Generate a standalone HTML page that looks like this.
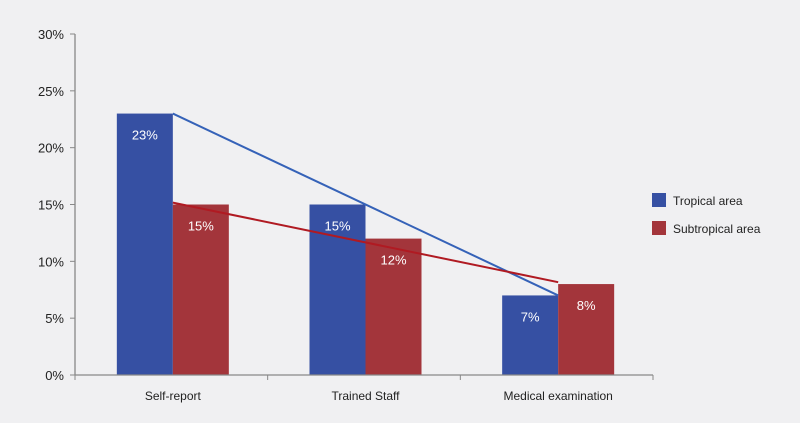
<!DOCTYPE html>
<html><head><meta charset="utf-8"><style>
body{margin:0;background:#f0f0f2;}
svg{display:block;font-family:"Liberation Sans",sans-serif;}
</style></head><body>
<svg id="chart" width="800" height="423">
<rect width="800" height="423" fill="#f0f0f2"/>
<g id="grid"></g><g id="bars"></g><g id="lines"></g><g id="axes"></g>
<g>
<rect x="652" y="193" width="14" height="14" fill="#3650a3"/>
<text x="673" y="205" font-size="12" fill="#222">Tropical area</text>
<rect x="652" y="221" width="14" height="14" fill="#a3353b"/>
<text x="673" y="233" font-size="12" fill="#222">Subtropical area</text>
</g>
</svg>
<script>
const categories = ["Self-report", "Trained Staff", "Medical examination"];
const tropical = [23, 15, 7];
const subtropical = [15, 12, 8];
const yTicks = [0, 5, 10, 15, 20, 25, 30];

const NS = "http://www.w3.org/2000/svg";
const x0 = 75, x1 = 653, yTop = 34, yBot = 375, yMax = 30;
const bw = (x1 - x0) / categories.length;
const barW = 56;
const y = v => yBot - v / yMax * (yBot - yTop);
const cx = i => x0 + bw * (i + 0.5) + 1.5;
function mk(tag, attrs, parent) {
  const e = document.createElementNS(NS, tag);
  for (const k in attrs) e.setAttribute(k, attrs[k]);
  parent.appendChild(e); return e;
}
const bars = document.getElementById("bars"), axes = document.getElementById("axes"), lines = document.getElementById("lines");
const colors = ["#3650a3", "#a3353b"];
[tropical, subtropical].forEach((series, s) => {
  series.forEach((v, i) => {
    const bx = cx(i) - barW + s * barW;
    const r = mk("rect", {x: bx, y: y(v), width: barW, height: yBot - y(v), fill: colors[s]}, bars);
    
    
    const t = mk("text", {x: bx + barW / 2, y: y(v) + 26, "text-anchor": "middle", "font-size": "13", fill: "#fff"}, bars);
    t.textContent = v + "%";
    
    
  });
  const n = series.length, mx = (n - 1) / 2;
  const my = series.reduce((a, b) => a + b, 0) / n;
  let num = 0, den = 0;
  series.forEach((v, i) => { num += (i - mx) * (v - my); den += (i - mx) ** 2; });
  const sl = num / den;
  const l = mk("line", {x1: cx(0), y1: y(my - sl * mx), x2: cx(n - 1), y2: y(my + sl * mx), stroke: s ? "#b01a22" : "#3562b8", "stroke-width": 2}, lines);
  
  
});
const ya = mk("line", {x1: x0, y1: yTop, x2: x0, y2: yBot, stroke: "#888", "stroke-width": 1.3}, axes);


const xa = mk("line", {x1: x0, y1: yBot, x2: x1, y2: yBot, stroke: "#888", "stroke-width": 1.3}, axes);


yTicks.forEach(v => {
  mk("line", {x1: x0 - 5, y1: y(v), x2: x0, y2: y(v), stroke: "#888"}, axes);
  const t = mk("text", {x: x0 - 11, y: y(v) + 5, "text-anchor": "end", "font-size": "13", fill: "#222"}, axes);
  t.textContent = v + "%";
  
  
});
for (let i = 0; i <= categories.length; i++) {
  mk("line", {x1: x0 + bw * i, y1: yBot, x2: x0 + bw * i, y2: yBot + 5, stroke: "#888"}, axes);
}
categories.forEach((c, i) => {
  const t = mk("text", {x: cx(i), y: yBot + 25, "text-anchor": "middle", "font-size": "12", fill: "#222"}, axes);
  t.textContent = c;
  
  
});
</script>
</body></html>
